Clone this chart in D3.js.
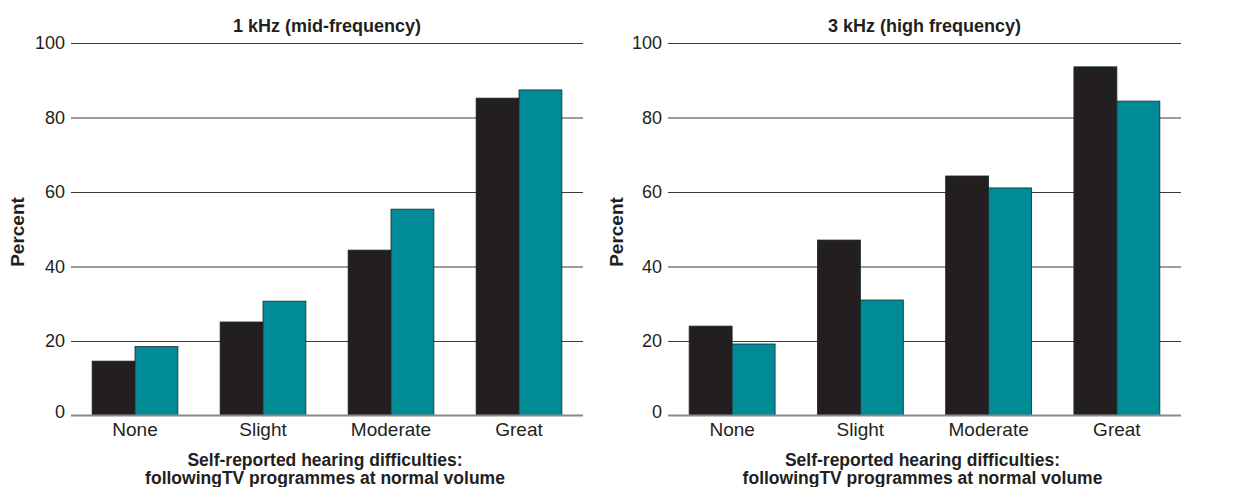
<!DOCTYPE html>
<html>
<head>
<meta charset="utf-8">
<script src="https://cdn.jsdelivr.net/npm/d3@7"></script>
<style>
  html, body { margin: 0; padding: 0; background: #fff; }
  svg { display: block; font-family: "Liberation Sans", Arial, Helvetica, sans-serif; }
</style>
</head>
<body>
<svg id="chart" width="1236" height="487"></svg>
<script>
// ---- data ----
const categories = ["None", "Slight", "Moderate", "Great"];
const seriesNames = ["Series A", "Series B"];
const midFreqA = [14.6, 25.1, 44.4, 85.2];
const midFreqB = [18.5, 30.7, 55.4, 87.4];
const highFreqA = [24.0, 47.1, 64.3, 93.6];
const highFreqB = [19.2, 31.0, 61.1, 84.4];
const yTicks = [0, 20, 40, 60, 80, 100];
const panelTitles = ["1 kHz (mid-frequency)", "3 kHz (high frequency)"];
const xTitleLines = ["Self-reported hearing difficulties:", "followingTV programmes at normal volume"];
const yTitle = "Percent";

const colors = ["#231f20", "#008b96"];

const svg = d3.select("#chart");

const panels = [
  { title: panelTitles[0], a: midFreqA, b: midFreqB, x0: 71, x1: 583, yLabelX: 18 },
  { title: panelTitles[1], a: highFreqA, b: highFreqB, x0: 668, x1: 1181, yLabelX: 617 }
];

const y = d3.scaleLinear().domain([0, 100]).range([415.5, 43]);

panels.forEach(p => {
  const g = svg.append("g");
  const x = d3.scaleBand().domain(categories).range([p.x0, p.x1])
    .paddingInner(0.33).paddingOuter(0.165);
  const xs = d3.scaleBand().domain(seriesNames).range([0, x.bandwidth()]);

  // gridlines
  const yAxis = d3.axisLeft(y).tickValues(yTicks.filter(t => t > 0))
    .tickSize(-(p.x1 - p.x0)).tickPadding(6).tickFormat(d3.format("d"));
  const ga = g.append("g").attr("transform", `translate(${p.x0},0)`).call(yAxis);
  ga.select(".domain").remove();
  ga.selectAll(".tick line").attr("stroke", "#3a3a3a").attr("stroke-width", 1.2);
  ga.selectAll(".tick text").attr("font-size", 18).attr("fill", "#231f20");

  // zero tick label
  const zeroAxis = d3.axisLeft(y).tickValues([0]).tickSize(0).tickPadding(6);
  const gz = g.append("g").attr("transform", `translate(${p.x0},0)`).call(zeroAxis);
  gz.select(".domain").remove();
  gz.selectAll(".tick text").attr("font-size", 18).attr("fill", "#231f20").attr("dy", "0.1em");

  // bars
  const rows = categories.map((c, i) => ({ cat: c, vals: [p.a[i], p.b[i]] }));
  const grp = g.selectAll(".grp").data(rows).join("g")
    .attr("transform", d => `translate(${x(d.cat)},0)`);
  grp.selectAll("rect").data(d => d.vals.map((v, j) => ({ v, s: seriesNames[j], j })))
    .join("rect")
    .attr("x", d => xs(d.s))
    .attr("width", xs.bandwidth())
    .attr("y", d => y(d.v))
    .attr("height", d => y(0) - y(d.v))
    .attr("fill", d => colors[d.j])
    .attr("stroke", "#1a2a2a")
    .attr("stroke-width", 0.8);

  // baseline
  const xAxis = d3.axisBottom(x).tickSize(0).tickPadding(7);
  const gx = g.append("g").attr("transform", `translate(0,${y(0)})`).call(xAxis);
  gx.select(".domain").attr("stroke", "#8a8a8a").attr("stroke-width", 2)
    .attr("d", `M${p.x0},0H${p.x1}`);
  gx.selectAll(".tick text").attr("font-size", 19).attr("fill", "#231f20");

  // title
  const cx = (p.x0 + p.x1) / 2;
  g.append("text").attr("x", cx).attr("y", 32).attr("text-anchor", "middle")
    .attr("font-size", 18).attr("font-weight", "bold").attr("fill", "#231f20")
    .text(p.title);

  // x axis title
  xTitleLines.forEach((t, i) => {
    g.append("text").attr("x", cx - 2).attr("y", 466 + i * 18).attr("text-anchor", "middle")
      .attr("font-size", 17.5).attr("font-weight", "bold").attr("fill", "#231f20")
      .text(t);
  });

  // y axis title
  g.append("text")
    .attr("transform", `translate(${p.yLabelX + 6},${232}) rotate(-90)`)
    .attr("text-anchor", "middle")
    .attr("font-size", 19).attr("font-weight", "bold").attr("fill", "#231f20")
    .text(yTitle);
});
</script>
</body>
</html>
